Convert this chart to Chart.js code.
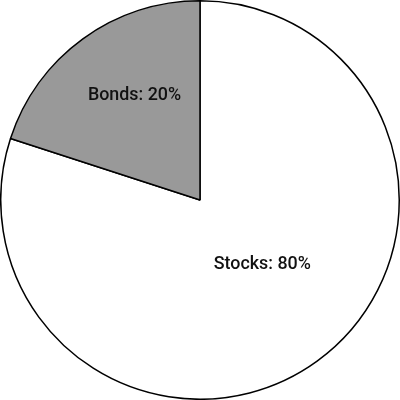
<!DOCTYPE html>
<html><head><meta charset="utf-8">
<script src="https://cdn.jsdelivr.net/npm/chart.js@4/dist/chart.umd.min.js"></script>
<style>html,body{margin:0;padding:0;background:#fff;}#wrap{width:400px;height:400px;}</style>
</head><body><div id="wrap"><canvas id="c"></canvas></div>
<script>
const categories = ["Stocks", "Bonds"];
const shares = [80, 20];
const sliceColors = ["#ffffff", "#999999"];
// label placement: fraction of radius, angle offset (deg) from slice middle
const labelRadius = [0.45, 0.62];
const labelAngleShift = [-8, 4];

const labelPlugin = {
  id: 'sliceLabels',
  afterDatasetsDraw(chart) {
    const ctx = chart.ctx;
    const meta = chart.getDatasetMeta(0);
    meta.data.forEach((arc, i) => {
      const p = arc.getProps(['x','y','startAngle','endAngle','outerRadius'], true);
      const mid = (p.startAngle + p.endAngle) / 2 + labelAngleShift[i] * Math.PI / 180;
      const r = p.outerRadius * labelRadius[i];
      const tx = p.x + Math.cos(mid) * r;
      const ty = p.y + Math.sin(mid) * r;
      ctx.save();
      ctx.translate(tx, ty);
      ctx.scale(0.94, 1);
      ctx.font = '500 19px Roboto, "Liberation Sans", sans-serif';
      ctx.fillStyle = '#111111';
      ctx.textAlign = 'center';
      ctx.textBaseline = 'middle';
      ctx.fillText(categories[i] + ': ' + shares[i] + '%', 0, 0);
      ctx.restore();
    });
  }
};

new Chart(document.getElementById('c'), {
  type: 'pie',
  data: {
    labels: categories,
    datasets: [{
      data: shares,
      backgroundColor: sliceColors,
      borderColor: '#000000',
      borderWidth: 1.5,
      borderAlign: 'center'
    }]
  },
  options: {
    responsive: true,
    maintainAspectRatio: false,
    animation: false,
    rotation: 0,
    layout: { padding: 0 },
    plugins: { legend: { display: false }, tooltip: { enabled: false } }
  },
  plugins: [labelPlugin]
});
</script></body></html>
